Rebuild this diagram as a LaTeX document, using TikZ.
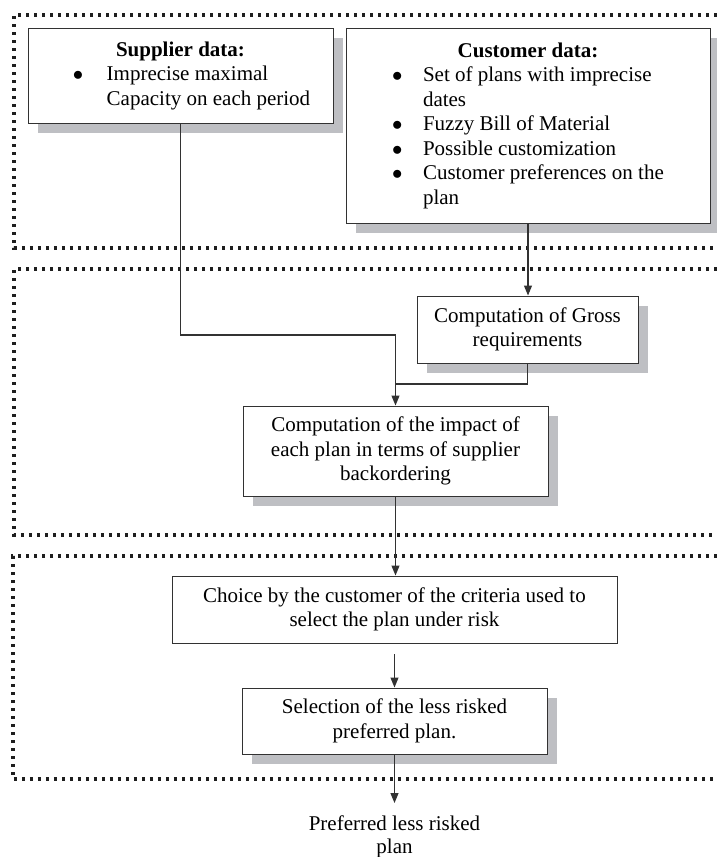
\documentclass[tikz,border=0pt]{standalone}
\usepackage{fontspec}
\setmainfont{Liberation Serif}
\usetikzlibrary{arrows.meta,shadows}
\definecolor{shgray}{RGB}{190,191,195}
\definecolor{linegray}{RGB}{50,50,50}
\definecolor{dotcol}{RGB}{30,30,30}
\newcommand{\blt}{$\bullet$}
\tikzset{
  txt/.style={font=\fontsize{21}{24.5}\selectfont, text=black},
  box/.style={txt, draw=linegray, line width=1pt, fill=white, inner xsep=6pt, inner ysep=4pt, align=center},
  shbox/.style={box, drop shadow={shadow xshift=10pt, shadow yshift=-10pt, fill=shgray, opacity=1}},
  frame/.style={draw=dotcol, line width=3.2pt, dash pattern=on 3.2pt off 4.8pt},
  conn/.style={draw=linegray, line width=1.1pt},
  arr/.style={conn, -{Triangle[length=10pt,width=8pt]}},
}
\begin{document}
\begin{tikzpicture}[x=1pt,y=-1pt]
\useasboundingbox (0,0) rectangle (717,857);
\begin{scope}
\clip (0,0) rectangle (717,857);
% dotted frames
\draw[frame] (725,15) -- (14,15) -- (14,248) -- (725,248);
\draw[frame] (725,269) -- (14,269) -- (14,535) -- (725,535);
\draw[frame] (725,556) -- (13,556) -- (13,779) -- (725,779);

% boxes
\node[shbox, align=left, minimum width=305pt, minimum height=95pt] (sup) at (180.5,75.5)
 {\makebox[293pt][c]{\textbf{Supplier data:}}\\
  \hspace*{39pt}\makebox[33.7pt][l]{\blt}Imprecise maximal\\
  \hspace*{72.7pt}Capacity on each period};
\node[shbox, align=left, minimum width=364pt, minimum height=195pt] (cus) at (528,125.5)
 {\makebox[352pt][c]{\textbf{Customer data:}}\\
  \hspace*{40pt}\makebox[31pt][l]{\blt}Set of plans with imprecise\\
  \hspace*{71pt}dates\\
  \hspace*{40pt}\makebox[31pt][l]{\blt}Fuzzy Bill of Material\\
  \hspace*{40pt}\makebox[31pt][l]{\blt}Possible customization\\
  \hspace*{40pt}\makebox[31pt][l]{\blt}Customer preferences on the\\
  \hspace*{71pt}plan};
\node[shbox, minimum width=221pt, minimum height=67pt] (gross) at (527.5,329.5)
 {Computation of Gross\\requirements};
\node[shbox, minimum width=305pt, minimum height=90pt] (impact) at (395.5,451)
 {Computation of the impact of\\each plan in terms of supplier\\backordering};
\node[box, minimum width=445pt, minimum height=67pt] (choice) at (394.5,609.5)
 {Choice by the customer of the criteria used to\\select the plan under risk};
\node[shbox, minimum width=305pt, minimum height=66pt] (select) at (394.5,721)
 {Selection of the less risked\\preferred plan.};
\node[txt, font=\fontsize{21}{22.5}\selectfont, align=center, anchor=north, inner xsep=0pt, inner ysep=13pt] (out) at (394.5,803)
 {Preferred less risked\\plan};

% connectors
\coordinate (j1) at (180.5,335);
\coordinate (j2) at (395.5,384);
\coordinate (a0) at (394.5,654);
\draw[arr] (sup.south) -- (j1) -| (impact.north);
\draw[arr] (cus.south) -- (cus.south |- gross.north);
\draw[conn] (gross.south) |- (j2);
\draw[arr] (impact.south) -- (impact.south |- choice.north);
\draw[arr] (a0) -- (select.north);
\draw[arr] (select.south) -- (out.north);
\end{scope}
\end{tikzpicture}
\end{document}
